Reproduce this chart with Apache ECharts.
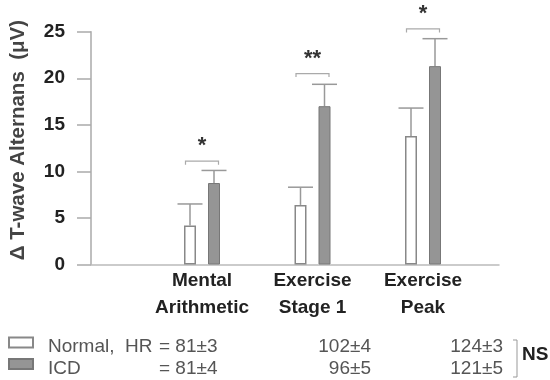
<!DOCTYPE html>
<html>
<head>
<meta charset="utf-8">
<script src="https://cdn.jsdelivr.net/npm/echarts@6/dist/echarts.min.js"></script>
<style>html,body{margin:0;padding:0;background:#fff}#c{width:550px;height:380px}</style>
</head>
<body>
<div id="c"></div>
<script>
const categories = ['Mental\nArithmetic', 'Exercise\nStage 1', 'Exercise\nPeak'];
const normalValues = [4.2, 6.4, 13.8];
const normalErrors = [2.3, 1.9, 3.0];
const icdValues = [8.75, 17.0, 21.3];
const icdErrors = [1.35, 2.35, 2.95];
const sigMarks = ['*', '**', '*'];
const sigLevels = [11.1, 20.5, 25.3];
const yMin = 0, yMax = 25, yInterval = 5;
const hrNormal = ['81±3', '102±4', '124±3'];
const hrICD = ['81±4', '96±5', '121±5'];
const hrNote = 'NS';

const SANS = "'Liberation Sans', Arial, sans-serif";

function errorSeries(values, errors, offset) {
  return {
    type: 'custom', xAxisIndex: 1, yAxisIndex: 1, clip: false, silent: true, z: 1,
    data: values.map((v, i) => [i, v, v + errors[i]]),
    renderItem(params, api) {
      const base = api.coord([api.value(0), api.value(1)]);
      const top = api.coord([api.value(0), api.value(2)]);
      const x = base[0] + offset;
      return { type: 'group', children: [
        { type: 'line', shape: { x1: x, y1: base[1], x2: x, y2: top[1] }, style: { stroke: '#999', lineWidth: 1.5 } },
        { type: 'line', shape: { x1: x - 12.5, y1: top[1], x2: x + 12.5, y2: top[1] }, style: { stroke: '#999', lineWidth: 1.5 } }
      ] };
    }
  };
}

const chart = echarts.init(document.getElementById('c'), null, { renderer: 'canvas' });
chart.setOption({
  animation: false,
  backgroundColor: '#fff',
  grid: [
    { left: 88, right: 51, top: 31.7, bottom: 115.5 },
    { left: 146.75, right: 71.75, top: 31.7, bottom: 115.5 }
  ],
  xAxis: [
    { gridIndex: 0, type: 'value', min: 0, max: 1,
      axisLine: { show: true, lineStyle: { color: '#bbb', width: 1.5 } },
      axisTick: { show: false }, axisLabel: { show: false }, splitLine: { show: false } },
    { gridIndex: 1, type: 'category', data: categories,
      axisLine: { show: false }, axisTick: { show: false }, splitLine: { show: false },
      axisLabel: { interval: 0, margin: 3, fontSize: 19, fontWeight: 'bold', fontFamily: SANS, color: '#222', lineHeight: 27 } }
  ],
  yAxis: [
    { gridIndex: 0, type: 'value', min: yMin, max: yMax, interval: yInterval,
      name: 'Δ T-wave Alternans  (μV)', nameLocation: 'middle', nameGap: 62, nameRotate: 90,
      nameTextStyle: { fontSize: 20.5, fontWeight: 'bold', fontFamily: SANS, color: '#444', padding: [0, 0, 0, 16] },
      axisLine: { show: true, lineStyle: { color: '#aaa', width: 1.5 } },
      axisTick: { show: true, length: 14, lineStyle: { color: '#aaa', width: 1.5 } },
      axisLabel: { margin: 26, fontSize: 19, fontWeight: 'bold', fontFamily: SANS, color: '#222' },
      splitLine: { show: false } },
    { gridIndex: 1, type: 'value', min: yMin, max: yMax, interval: yInterval, show: false }
  ],
  legend: {
    data: ['Normal', 'ICD'], orient: 'vertical', left: 8, top: 328.5, padding: 0,
    itemWidth: 24, itemHeight: 10, itemGap: -6.5, icon: 'rect', selectedMode: false,
    formatter(name) {
      const i = name === 'Normal';
      const vals = i ? hrNormal : hrICD;
      return '{n|' + (i ? 'Normal,  HR' : 'ICD') + '}{h|= ' + vals[0] + '}{b|' + vals[1] + '}{c|' + vals[2] + '}';
    },
    textStyle: {
      fontSize: 19, fontFamily: SANS, color: '#555', lineHeight: 19, padding: [9, 0, 0, 10],
      rich: {
        n: { width: 111, fontSize: 19, fontFamily: SANS, color: '#555' },
        h: { width: 60, fontSize: 19, fontFamily: SANS, color: '#555' },
        b: { width: 152, align: 'right', fontSize: 19, fontFamily: SANS, color: '#555' },
        c: { width: 132, align: 'right', fontSize: 19, fontFamily: SANS, color: '#555' }
      }
    }
  },
  graphic: [
    { type: 'polyline', shape: { points: [[513, 340], [517, 340], [517, 377], [513, 377]] }, style: { stroke: '#999', lineWidth: 1, fill: null } },
    { type: 'text', x: 522, y: 355, style: { text: hrNote, fontSize: 19, fontWeight: 'bold', fontFamily: SANS, fill: '#222', align: 'left', verticalAlign: 'middle' } }
  ],
  series: [
    { name: 'Normal', type: 'bar', xAxisIndex: 1, yAxisIndex: 1, data: normalValues, barWidth: 12, barGap: '100%', z: 2,
      itemStyle: { color: '#fff', borderColor: '#888', borderWidth: 1.5 } },
    { name: 'ICD', type: 'bar', xAxisIndex: 1, yAxisIndex: 1, data: icdValues, barWidth: 12, barGap: '100%', z: 2,
      itemStyle: { color: '#959595', borderColor: '#777', borderWidth: 1 } },
    errorSeries(normalValues, normalErrors, -12),
    errorSeries(icdValues, icdErrors, 12),
    {
      type: 'custom', xAxisIndex: 1, yAxisIndex: 1, clip: false, silent: true, z: 3,
      data: sigLevels.map((v, i) => [i, v]),
      renderItem(params, api) {
        const i = api.value(0);
        const c = api.coord([i, api.value(1)]);
        return { type: 'group', children: [
          { type: 'polyline', shape: { points: [[c[0] - 16.5, c[1] + 3.5], [c[0] - 16.5, c[1]], [c[0] + 16.5, c[1]], [c[0] + 16.5, c[1] + 3.5]] },
            style: { stroke: '#aaa', lineWidth: 1.2, fill: null } },
          { type: 'text', x: c[0], y: c[1] - 15,
            style: { text: sigMarks[i], fontSize: 22, fontWeight: 'bold', fontFamily: SANS, fill: '#333', align: 'center', verticalAlign: 'middle', textAlign: 'center', textVerticalAlign: 'middle' } }
        ] };
      }
    }
  ]
});
</script>
</body>
</html>
